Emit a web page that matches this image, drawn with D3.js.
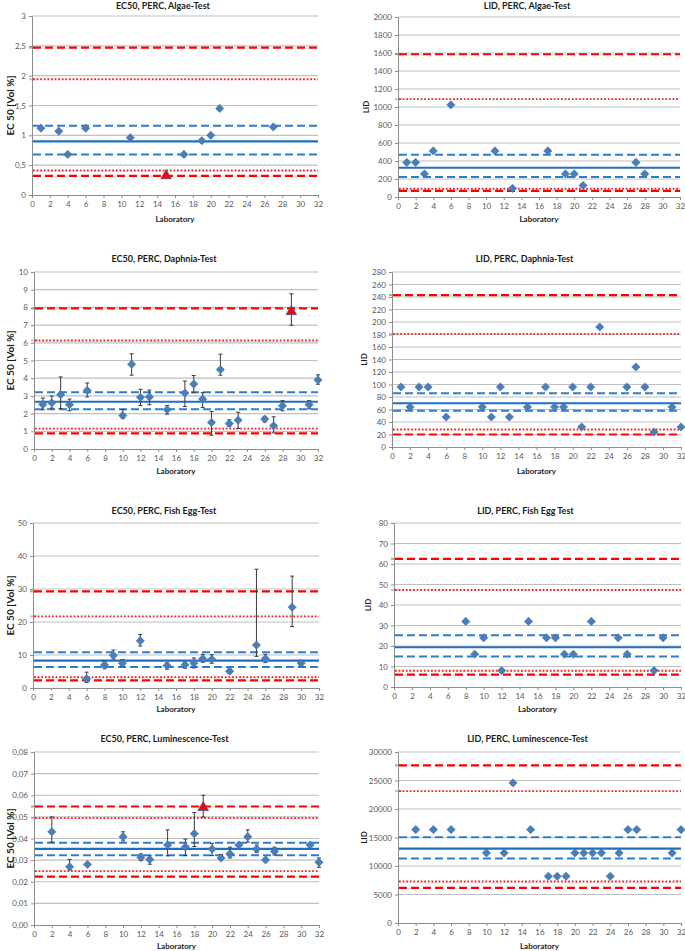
<!DOCTYPE html>
<html><head><meta charset="utf-8">
<script src="https://cdn.jsdelivr.net/npm/d3@7"></script>
<style>body{margin:0;background:#fff} svg{display:block} text{font-family:Lato,"Liberation Sans",sans-serif}</style>
</head><body><svg id="c" width="685" height="951"></svg>
<script>
const xTicks = d3.range(0, 33, 2);

// Reference lines order: upper red dashed, upper red dotted, upper blue dashed, mean, lower blue dashed, lower red dotted, lower red dashed
const algaeEC50Labs = [1,3,4,6,11,15,17,19,20,21,27];
const algaeEC50Vals = [1.12,1.07,0.68,1.12,0.96,0.34,0.68,0.91,1.00,1.45,1.14];
const algaeEC50Lines = [2.47,1.94,1.16,0.90,0.68,0.41,0.32];
const algaeEC50Outliers = [15];
const algaeEC50YTicks = [0,0.5,1,1.5,2,2.5,3];

const algaeLIDLabs = [1,2,3,4,6,11,13,17,19,20,21,27,28];
const algaeLIDVals = [384,384,256,512,1024,512,96,512,256,256,128,384,256];
const algaeLIDLines = [1586,1087,470,325,222,92,67];
const algaeLIDYTicks = d3.range(0, 2001, 200);

const daphEC50Labs = [1,2,3,4,6,10,11,12,13,15,17,18,19,20,21,22,23,26,27,28,29,31,32];
const daphEC50Vals = [2.52,2.61,3.07,2.50,3.31,1.89,4.79,2.92,2.94,2.23,3.16,3.67,2.82,1.50,4.49,1.44,1.63,1.69,1.31,2.44,7.82,2.50,3.90];
const daphEC50Hi = [2.88,2.99,4.07,2.82,3.73,2.23,5.38,3.37,3.33,2.46,3.84,4.15,3.18,2.12,5.36,1.65,2.08,1.84,1.82,2.73,8.77,2.73,4.19];
const daphEC50Lo = [2.22,2.31,2.29,2.16,2.94,1.74,4.17,2.46,2.50,1.97,2.40,3.18,2.35,0.78,4.17,1.29,1.16,1.53,0.91,2.16,6.99,2.27,3.66];
const daphEC50Lines = [7.94,6.13,3.21,2.67,2.24,1.15,0.88];
const daphEC50Outliers = [29];
const daphEC50YTicks = d3.range(0, 11, 1);

const daphLIDLabs = [1,2,3,4,6,10,11,12,13,15,17,18,19,20,21,22,23,26,27,28,29,31,32];
const daphLIDVals = [96,64,96,96,48,64,48,96,48,64,96,64,64,96,32,96,192,96,128,96,24,64,32];
const daphLIDLines = [243,181,86,70,58,28,20];
const daphLIDYTicks = d3.range(0, 281, 20);

const fishEC50Labs = [6,8,9,10,12,15,17,18,19,20,22,25,26,29,30];
const fishEC50Vals = [2.8,7.0,9.9,7.5,14.3,6.8,7.0,7.5,8.9,8.7,5.1,13.0,8.9,24.5,7.5];
const fishEC50Hi = [4.8,8.2,11.5,8.6,16.2,7.6,7.8,9.1,10.2,10.1,5.7,36.0,10.2,33.9,8.3];
const fishEC50Lo = [1.7,5.8,8.8,6.5,12.7,5.7,6.0,6.1,7.8,7.5,4.4,9.6,7.7,18.6,6.7];
const fishEC50Lines = [29.3,21.7,10.85,8.3,6.4,3.25,2.33];
const fishEC50YTicks = d3.range(0, 51, 10);

const fishLIDLabs = [8,9,10,12,15,17,18,19,20,22,25,26,29,30];
const fishLIDVals = [32,16,24,8,32,24,24,16,16,32,24,16,8,24];
const fishLIDLines = [62.5,47.3,25.3,19.4,14.9,7.9,6.0];
const fishLIDYTicks = d3.range(0, 81, 10);

const lumEC50Labs = [2,4,6,10,12,13,15,17,18,19,20,21,22,23,24,25,26,27,31,32];
const lumEC50Vals = [0.0431,0.0269,0.0280,0.0408,0.0312,0.0303,0.0370,0.0361,0.0422,0.0548,0.0351,0.0310,0.0329,0.0370,0.0408,0.0351,0.0301,0.0340,0.0370,0.0290];
const lumEC50Hi = [0.0500,0.0303,null,0.0431,0.0329,0.0320,0.0440,0.0397,0.0520,0.0600,0.0378,0.0326,0.0360,null,0.0440,0.0370,null,0.0360,null,0.0310];
const lumEC50Lo = [0.0383,0.0255,null,0.0389,0.0298,0.0281,0.0320,0.0321,0.0363,0.0499,0.0321,0.0301,0.0310,null,0.0383,0.0335,null,0.0324,null,0.0267];
const lumEC50Lines = [0.0548,0.0494,0.0380,0.0352,0.0323,0.0249,0.0224];
const lumEC50Outliers = [19];
const lumEC50YTicks = d3.range(0, 0.0801, 0.01);

const lumLIDLabs = [2,4,6,10,12,13,15,17,18,19,20,21,22,23,24,25,26,27,31,32];
const lumLIDVals = [16384,16384,16384,12288,12288,24576,16384,8192,8192,8192,12288,12288,12288,12288,8192,12288,16384,16384,12288,16384];
const lumLIDLines = [27670,23130,15030,13050,11300,7280,6175];
const lumLIDYTicks = d3.range(0, 30001, 5000);

const titles = ["EC50, PERC, Algae-Test","LID, PERC, Algae-Test","EC50, PERC, Daphnia-Test","LID, PERC, Daphnia-Test","EC50, PERC, Fish Egg-Test","LID, PERC, Fish Egg Test","EC50, PERC, Luminescence-Test","LID, PERC, Luminescence-Test"];
const yTitles = ["EC 50 [Vol %]","LID"];
const xTitle = "Laboratory";

const comma = f => d => f(d).replace('.', ',');
const panels = [
  {labs:algaeEC50Labs, vals:algaeEC50Vals, lines:algaeEC50Lines, out:algaeEC50Outliers, ticks:algaeEC50YTicks, fmt:comma(d3.format('')), title:titles[0], yt:yTitles[0],
   box:[32,318,16,195], tY:9, labY:222, ytX:10},
  {labs:algaeLIDLabs, vals:algaeLIDVals, lines:algaeLIDLines, out:[], ticks:algaeLIDYTicks, fmt:d3.format('d'), title:titles[1], yt:yTitles[1],
   box:[398,680,17,197], tY:9, labY:222, ytX:366},
  {labs:daphEC50Labs, vals:daphEC50Vals, hi:daphEC50Hi, lo:daphEC50Lo, lines:daphEC50Lines, out:daphEC50Outliers, ticks:daphEC50YTicks, fmt:d3.format('d'), title:titles[2], yt:yTitles[0],
   box:[34,318,272,449], tY:262, labY:474, ytX:10},
  {labs:daphLIDLabs, vals:daphLIDVals, lines:daphLIDLines, out:[], ticks:daphLIDYTicks, fmt:d3.format('d'), title:titles[3], yt:yTitles[1],
   box:[392,681,272,447], tY:262, labY:474, ytX:364},
  {labs:fishEC50Labs, vals:fishEC50Vals, hi:fishEC50Hi, lo:fishEC50Lo, lines:fishEC50Lines, out:[], ticks:fishEC50YTicks, fmt:d3.format('d'), title:titles[4], yt:yTitles[0],
   box:[33,319,523,688], tY:514, labY:712, ytX:10},
  {labs:fishLIDLabs, vals:fishLIDVals, lines:fishLIDLines, out:[], ticks:fishLIDYTicks, fmt:d3.format('d'), title:titles[5], yt:yTitles[1],
   box:[394,681,523,687], tY:514, labY:712, ytX:368},
  {labs:lumEC50Labs, vals:lumEC50Vals, hi:lumEC50Hi, lo:lumEC50Lo, lines:lumEC50Lines, out:lumEC50Outliers, ticks:lumEC50YTicks, fmt:comma(d3.format('.2f')), title:titles[6], yt:yTitles[0],
   box:[34,319,752,925], tY:742, labY:949, ytX:10},
  {labs:lumLIDLabs, vals:lumLIDVals, lines:lumLIDLines, out:[], ticks:lumLIDYTicks, fmt:d3.format('d'), title:titles[7], yt:yTitles[1],
   box:[398,681,752,923], tY:742, labY:949, ytX:364}
];

const svg = d3.select('#c');
const lineStyles = [
  {c:'#ff0000', w:2.2, dash:'8,4'},
  {c:'#ff2020', w:1.9, dash:'1.8,1.8'},
  {c:'#2f7dce', w:2, dash:'8,4'},
  {c:'#1f6fc0', w:2.2, dash:null},
  {c:'#2f7dce', w:2, dash:'8,4'},
  {c:'#ff2020', w:1.9, dash:'1.8,1.8'},
  {c:'#ff0000', w:2.2, dash:'8,4'}
];

panels.forEach(p => {
  const [x0, x1, y0, y1] = p.box;
  const ymax = p.ticks[p.ticks.length - 1];
  const x = d3.scaleLinear().domain([0, 32]).range([x0, x1]);
  const y = d3.scaleLinear().domain([0, ymax]).range([y1, y0]);
  const g = svg.append('g');

  // gridlines
  g.append('g').selectAll('line').data(p.ticks.slice(1)).join('line')
    .attr('x1', x0).attr('x2', x1).attr('y1', d => y(d)).attr('y2', d => y(d))
    .attr('stroke', '#c0c0c0').attr('stroke-width', 1.2);

  // small colored stubs at axis
  g.append('line').attr('x1', x0 - 3).attr('x2', x0 + 4).attr('y1', y(p.lines[0])).attr('y2', y(p.lines[0]))
    .attr('stroke', '#9bbb59').attr('stroke-width', 2);
  g.append('line').attr('x1', x0 - 3).attr('x2', x0 + 4).attr('y1', y(p.lines[1])).attr('y2', y(p.lines[1]))
    .attr('stroke', '#b0c8e8').attr('stroke-width', 2);

  // reference lines
  g.append('g').selectAll('line').data(p.lines).join('line')
    .attr('x1', x0 + 1).attr('x2', x1).attr('y1', d => y(d)).attr('y2', d => y(d))
    .attr('stroke', (d, i) => lineStyles[i].c)
    .attr('stroke-width', (d, i) => lineStyles[i].w)
    .attr('stroke-dasharray', (d, i) => lineStyles[i].dash);

  // axes
  const yAxis = d3.axisLeft(y).tickValues(p.ticks).tickFormat(p.fmt).tickSize(3).tickPadding(3);
  const ya = g.append('g').attr('transform', `translate(${x0},0)`).call(yAxis);
  const xAxis = d3.axisBottom(x).tickValues(xTicks).tickSize(3).tickPadding(3);
  const xa = g.append('g').attr('transform', `translate(0,${y1})`).call(xAxis);
  [ya, xa].forEach(a => {
    a.select('.domain').attr('stroke', '#8c8c8c');
    a.selectAll('.tick line').attr('stroke', '#8c8c8c');
    a.selectAll('.tick text').attr('fill', '#595959').style('font-size', '8px').style('font-family', 'Lato, sans-serif');
  });

  // error bars
  if (p.hi) {
    const eb = p.labs.map((l, i) => ({l, hi: p.hi[i], lo: p.lo[i]})).filter(d => d.hi != null);
    const ge = g.append('g').attr('stroke', '#3a3a3a').attr('stroke-width', 1);
    ge.selectAll('line.v').data(eb).join('line').attr('class', 'v')
      .attr('x1', d => x(d.l)).attr('x2', d => x(d.l)).attr('y1', d => y(d.hi)).attr('y2', d => y(d.lo));
    ge.selectAll('line.t').data(eb).join('line').attr('class', 't')
      .attr('x1', d => x(d.l) - 2).attr('x2', d => x(d.l) + 2).attr('y1', d => y(d.hi)).attr('y2', d => y(d.hi));
    ge.selectAll('line.b').data(eb).join('line').attr('class', 'b')
      .attr('x1', d => x(d.l) - 2).attr('x2', d => x(d.l) + 2).attr('y1', d => y(d.lo)).attr('y2', d => y(d.lo));
  }

  // markers
  const pts = p.labs.map((l, i) => ({l, v: p.vals[i], out: p.out.includes(l)}));
  const diamond = d3.symbol().type(d3.symbolSquare).size(34);
  const tri = d3.symbol().type(d3.symbolTriangle).size(48);
  g.append('g').selectAll('path').data(pts.filter(d => !d.out)).join('path')
    .attr('d', diamond).attr('transform', d => `translate(${x(d.l)},${y(d.v)}) rotate(45)`)
    .attr('fill', '#4a7ebb').attr('stroke', '#3d6fa8').attr('stroke-width', 0.6);
  g.append('g').selectAll('path').data(pts.filter(d => d.out)).join('path')
    .attr('d', tri).attr('transform', d => `translate(${x(d.l)},${y(d.v) + 1})`)
    .attr('fill', '#ff0000').attr('stroke', '#3b5998').attr('stroke-width', 0.8);

  // titles
  g.append('text').attr('x', (x0 + x1) / 2 - 12).attr('y', p.tY).attr('text-anchor', 'middle')
    .style('font-size', '9px').style('font-weight', 'bold').attr('fill', '#1a1a1a').text(p.title);
  g.append('text').attr('x', (x0 + x1) / 2).attr('y', p.labY).attr('text-anchor', 'middle')
    .style('font-size', '8px').style('font-weight', 'bold').attr('fill', '#1a1a1a').text(xTitle);
  g.append('text').attr('transform', `translate(${p.ytX},${(y0 + y1) / 2}) rotate(-90)`).attr('dy', '0.35em')
    .attr('text-anchor', 'middle')
    .style('font-size', p.yt === 'LID' ? '8px' : '10px').style('font-weight', 'bold').attr('fill', '#1a1a1a').text(p.yt);
});
</script></body></html>
